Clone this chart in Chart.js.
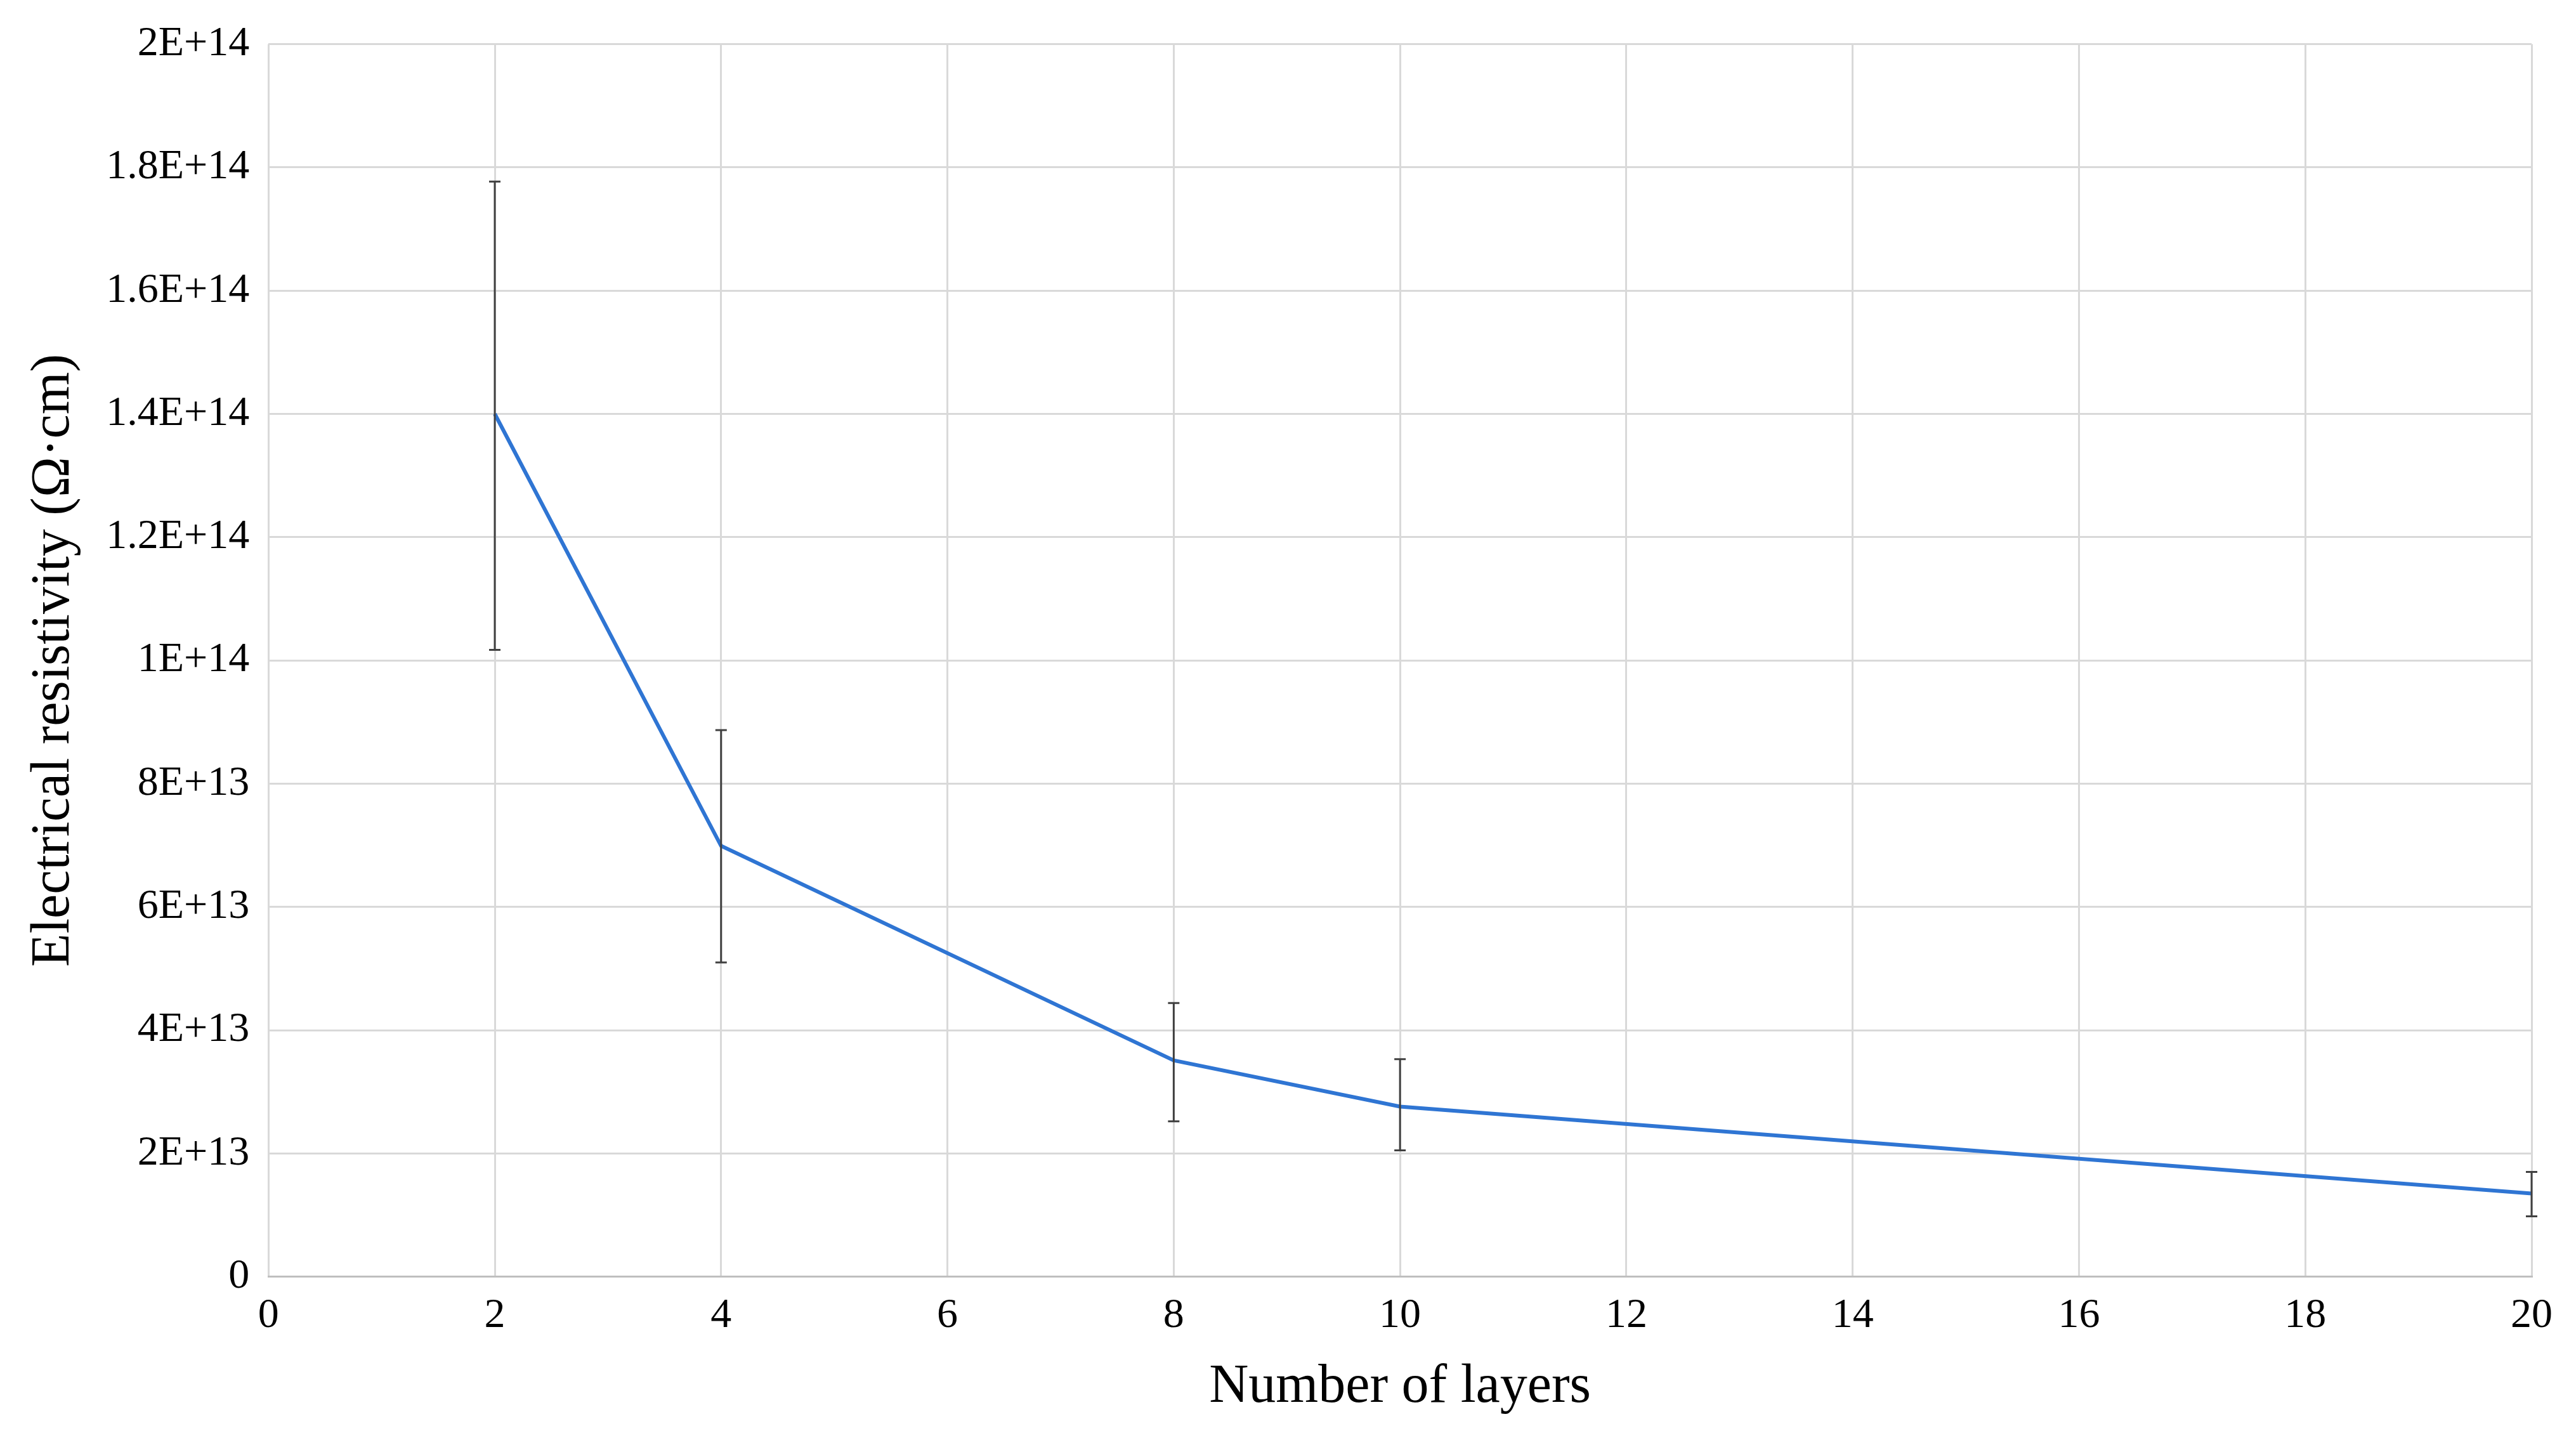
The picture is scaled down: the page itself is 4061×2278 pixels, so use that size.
<!DOCTYPE html>
<html>
<head>
<meta charset="utf-8">
<script src="https://cdn.jsdelivr.net/npm/chart.js@4/dist/chart.umd.min.js"></script>
<style>
  html, body { margin: 0; padding: 0; background: #fff; }
  #wrap { width: 4061px; height: 2278px; }
</style>
</head>
<body>
<div id="wrap"><canvas id="chart"></canvas></div>
<script>
const layers = [2, 4, 8, 10, 20];
const resistivity = [1.40e14, 6.99e13, 3.51e13, 2.76e13, 1.35e13];
const errHigh = [1.777e14, 8.87e13, 4.44e13, 3.53e13, 1.70e13];
const errLow = [1.017e14, 5.10e13, 2.52e13, 2.05e13, 0.98e13];

// whiskers drawn through the chart's own scales
const errorBars = {
  id: "errorBars",
  afterDatasetsDraw(chart) {
    const ctx = chart.ctx;
    const xs = chart.scales.x, ys = chart.scales.y;
    ctx.save();
    ctx.strokeStyle = "#404040";
    ctx.lineWidth = 3;
    layers.forEach(function (l, i) {
      const x = xs.getPixelForValue(l);
      const top = ys.getPixelForValue(errHigh[i]);
      const bot = ys.getPixelForValue(errLow[i]);
      ctx.beginPath();
      ctx.moveTo(x, top); ctx.lineTo(x, bot);
      ctx.moveTo(x - 9, top); ctx.lineTo(x + 9, top);
      ctx.moveTo(x - 9, bot); ctx.lineTo(x + 9, bot);
      ctx.stroke();
    });
    ctx.restore();
  }
};

new Chart(document.getElementById("chart").getContext("2d"), {
  type: "line",
  data: {
    datasets: [{
      data: layers.map((l, i) => ({ x: l, y: resistivity[i] })),
      borderColor: "#2f75d3",
      borderWidth: 6,
      pointRadius: 0,
      tension: 0,
    }],
  },
  options: {
    responsive: true,
    maintainAspectRatio: false,
    animation: false,
    layout: { padding: { top: 40, right: 70, left: 30, bottom: 35 } },
    plugins: { legend: { display: false }, tooltip: { enabled: false } },
    scales: {
      x: {
        type: "linear",
        min: 0, max: 20,
        ticks: { stepSize: 2, color: "#000", font: { family: "Liberation Serif", size: 66 }, padding: 22 },
        grid: { color: "#d9d9d9", lineWidth: 3, drawTicks: false },
        border: { color: "#bfbfbf", width: 3 },
        title: { display: true, text: "Number of layers", color: "#000", font: { family: "Liberation Serif", size: 86 }, padding: { top: 0 } },
      },
      y: {
        min: 0, max: 2e14,
        ticks: {
          stepSize: 2e13, color: "#000", font: { family: "Liberation Serif", size: 66 }, padding: 30,
          callback: function (v) { return v === 0 ? "0" : Number(v).toExponential().toUpperCase(); }
        },
        grid: { color: "#d9d9d9", lineWidth: 3, drawTicks: false },
        border: { display: false },
        title: { display: true, text: "Electrical resistivity (Ω·cm)", color: "#000", font: { family: "Liberation Serif", size: 86 }, padding: { bottom: 0 } },
      },
    },
  },
  plugins: [errorBars],
});
</script>
</body>
</html>
